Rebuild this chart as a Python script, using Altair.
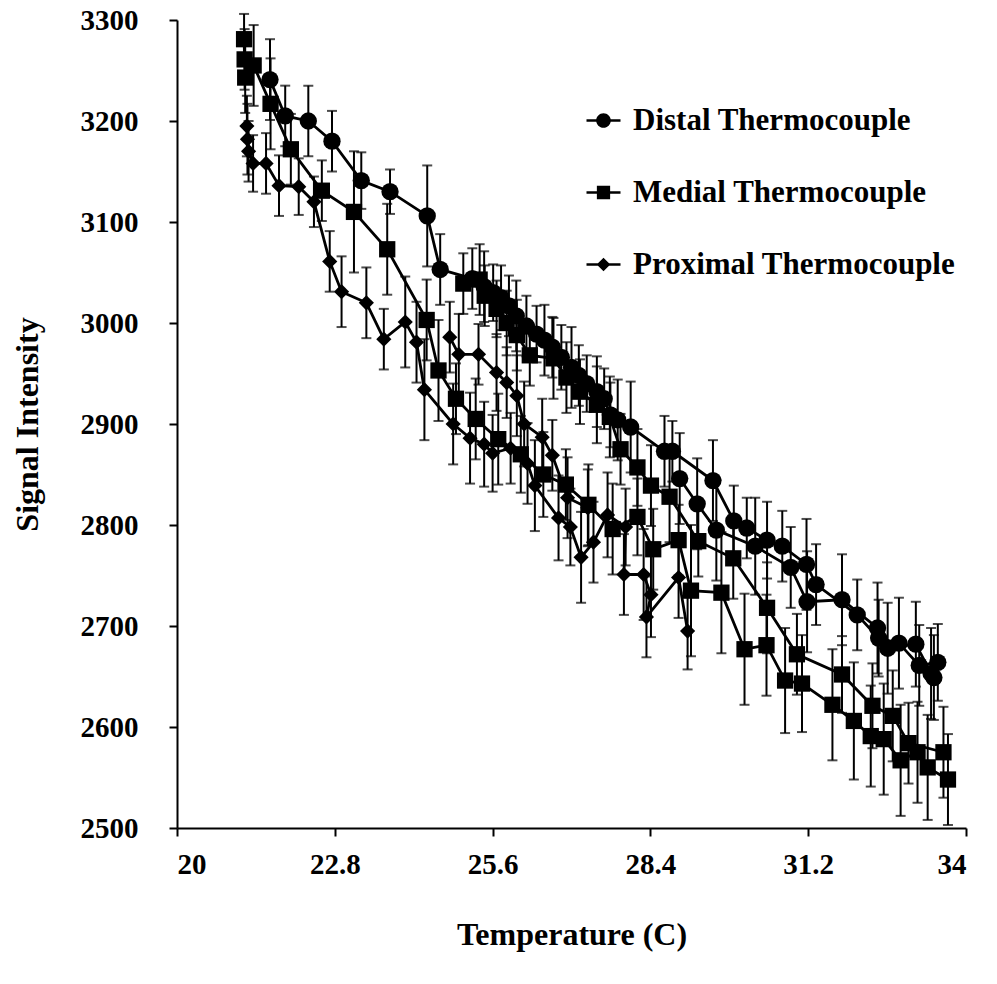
import altair as alt
import pandas as pd

SERIES = ["Distal Thermocouple", "Medial Thermocouple", "Proximal Thermocouple"]

# ---------------- Distal (circles) ----------------
dist_a_x = [21.65, 21.92, 22.33, 22.75, 23.27, 23.78, 24.44, 24.67,
            25.24, 25.45, 25.61, 25.75, 25.89, 26.02, 26.20, 26.38, 26.52, 26.66,
            26.82, 27.00, 27.13, 27.27, 27.45, 27.58, 27.69, 27.82, 28.05,
            28.65, 28.79, 29.51, 29.88, 30.11, 30.47, 30.74, 31.17, 31.34,
            32.07, 32.45, 32.81, 33.17, 33.50]
dist_a_y = [3241, 3205, 3200, 3180, 3141, 3130, 3106, 3053,
            3044, 3036, 3030, 3025, 3017, 3007, 2997, 2989, 2983, 2976,
            2966, 2956, 2948, 2940, 2932, 2925, 2909, 2904, 2897,
            2873, 2873, 2844, 2804, 2797, 2785, 2779, 2761, 2741,
            2711, 2688, 2683, 2661, 2664]
dist_a_e = [40, 30, 35, 30, 28, 22, 50, 35,
            30, 35, 28, 32, 30, 35, 30, 28, 35, 30,
            32, 40, 30, 28, 35, 30, 32, 40, 45,
            35, 30, 40, 35, 30, 38, 35, 45, 40,
            35, 38, 45, 40, 38]

dist_b_x = [28.92, 29.23, 29.57, 30.26, 30.89, 31.18, 31.80, 32.43, 32.61, 33.11, 33.38, 33.43]
dist_b_y = [2846, 2821, 2795, 2779, 2758, 2724, 2726, 2698, 2678, 2682, 2653, 2649]
dist_b_e = [45, 45, 50, 48, 40, 50, 45, 45, 45, 42, 45, 42]

# ---------------- Medial (squares) ----------------
med_a_x = [21.19, 21.20, 21.21, 21.36, 21.66, 22.02, 22.57, 23.14, 23.73, 24.43, 24.64,
           24.95, 25.30, 25.70, 26.10, 26.50, 26.90, 27.30, 27.73, 28.17, 28.45, 28.90,
           29.12, 29.66, 30.07, 30.46, 30.79, 31.09, 31.63, 32.01, 32.31, 32.54, 32.84,
           33.14, 33.32, 33.68]
med_a_y = [3281, 3261, 3243, 3255, 3217, 3172, 3131, 3110, 3073, 3003, 2953,
           2925, 2905, 2885, 2870, 2850, 2840, 2820, 2796, 2808, 2776, 2785,
           2735, 2733, 2677, 2681, 2646, 2643, 2622, 2606, 2591, 2588, 2567,
           2575, 2560, 2548]
med_a_e = [25, 30, 35, 40, 45, 35, 30, 60, 45, 40, 50,
           35, 40, 45, 38, 42, 35, 40, 45, 38, 40, 35,
           65, 60, 55, 50, 52, 48, 55, 58, 50, 55, 55,
           50, 52, 45]

med_b_x = [25.08, 25.37, 25.46, 25.67, 25.85, 26.03, 26.26, 26.68, 26.91, 27.15, 27.45,
           27.68, 27.87, 28.17, 28.41, 28.74, 29.25, 29.87, 30.47, 31.00, 31.80, 32.34,
           32.70, 32.98, 33.60]
med_b_y = [3039, 3043, 3027, 3014, 3000, 2988, 2968, 2965, 2946, 2932, 2919,
           2907, 2875, 2857, 2839, 2828, 2784, 2767, 2718, 2672, 2652, 2621,
           2611, 2584, 2575]
med_b_e = [30, 35, 30, 28, 32, 35, 30, 40, 35, 32, 38,
           40, 35, 38, 40, 45, 35, 40, 45, 40, 38, 42,
           45, 40, 45]

# ---------------- Proximal (diamonds) ----------------
prox_a_x = [21.24, 21.25, 21.27, 21.35, 21.58, 21.81, 22.16, 22.43, 22.71, 22.92, 23.36,
            23.67, 24.05, 24.25, 24.39, 24.90, 25.20, 25.45, 25.60, 25.92, 26.22, 26.35,
            26.77, 26.98, 27.17, 27.39, 27.64, 27.96, 27.93, 28.28, 28.41, 28.33, 28.90, 29.06]
prox_a_y = [3195, 3182, 3170, 3158, 3158, 3136, 3135, 3120, 3061, 3031, 3020,
            2984, 3001, 2981, 2934, 2900, 2886, 2880, 2871, 2876, 2861, 2839,
            2807, 2798, 2768, 2783, 2810, 2798, 2751, 2751, 2731, 2709, 2748, 2695]
prox_a_e = [30, 35, 30, 28, 30, 30, 28, 25, 30, 35, 35,
            30, 45, 40, 50, 40, 45, 42, 38, 35, 40, 45,
            42, 38, 45, 40, 42, 38, 40, 45, 42, 40, 40, 38]

prox_b_x = [24.84, 25.00, 25.35, 25.67, 25.85, 26.03, 26.16, 26.48, 26.66, 26.93, 27.29]
prox_b_y = [2986, 2969, 2969, 2951, 2941, 2928, 2900, 2887, 2869, 2827, 2817]
prox_b_e = [35, 40, 30, 38, 35, 40, 42, 38, 35, 40, 38]

x_ticks = [20, 22.8, 25.6, 28.4, 31.2, 34]
y_ticks = [2500, 2600, 2700, 2800, 2900, 3000, 3100, 3200, 3300]

rows = []


def add(series, path, xs, ys, es):
    assert len(xs) == len(ys) == len(es), (series, path, len(xs), len(ys), len(es))
    for i, (xv, yv, ev) in enumerate(zip(xs, ys, es)):
        rows.append({"series": series, "path": series + path, "x": xv, "y": yv,
                     "err": ev, "idx": i})


add(SERIES[0], "a", dist_a_x, dist_a_y, dist_a_e)
add(SERIES[0], "b", dist_b_x, dist_b_y, dist_b_e)
add(SERIES[1], "a", med_a_x, med_a_y, med_a_e)
add(SERIES[1], "b", med_b_x, med_b_y, med_b_e)
add(SERIES[2], "a", prox_a_x, prox_a_y, prox_a_e)
add(SERIES[2], "b", prox_b_x, prox_b_y, prox_b_e)

df = pd.DataFrame(rows)

FONT = "Liberation Serif"

xscale = alt.Scale(domain=[20, 34], nice=False, zero=False)
yscale = alt.Scale(domain=[2500, 3300], nice=False, zero=False)

xaxis = alt.Axis(values=x_ticks, format=".1~f", title="Temperature (C)",
                 titlePadding=40, labelPadding=14)
yaxis = alt.Axis(values=y_ticks, format="d", title="Signal Intensity",
                 titlePadding=36, labelPadding=31)


def X():
    return alt.X("x:Q", scale=xscale, axis=xaxis)


def Y(field):
    return alt.Y(field, scale=yscale, axis=yaxis)


base = alt.Chart(df).transform_calculate(lo="datum.y - datum.err", hi="datum.y + datum.err")

bars = base.mark_rule(color="black", strokeWidth=2).encode(
    x=X(), y=Y("lo:Q"), y2="hi:Q")
cap_lo = base.mark_tick(color="black", orient="horizontal", size=10, thickness=2).encode(
    x=X(), y=Y("lo:Q"))
cap_hi = base.mark_tick(color="black", orient="horizontal", size=10, thickness=2).encode(
    x=X(), y=Y("hi:Q"))

lines = base.mark_line(color="black", strokeWidth=2.8).encode(
    x=X(), y=Y("y:Q"), detail="path:N", order=alt.Order("idx:Q"))

points = base.mark_point(filled=True, color="black", opacity=1, strokeWidth=0).encode(
    x=X(), y=Y("y:Q"),
    shape=alt.Shape("series:N", scale=alt.Scale(domain=SERIES, range=["circle", "square", "diamond"]),
                    legend=None),
    size=alt.Size("series:N", scale=alt.Scale(domain=SERIES, range=[300, 230, 200]), legend=None),
)

# legend glyphs: marker with a line through it
leg_paths = [
    "M-2,-0.15 L2,-0.15 L2,0.15 L-2,0.15 Z M0.86,0 A0.86,0.86 0 1,1 -0.86,0 A0.86,0.86 0 1,1 0.86,0 Z",
    "M-2,-0.15 L2,-0.15 L2,0.15 L-2,0.15 Z M-0.78,-0.78 L0.78,-0.78 L0.78,0.78 L-0.78,0.78 Z",
    "M-2,-0.15 L2,-0.15 L2,0.15 L-2,0.15 Z M0,-0.8 L0.8,0 L0,0.8 L-0.8,0 Z",
]
legend_layer = base.transform_filter("false").mark_point(filled=True, color="black").encode(
    x=X(), y=Y("y:Q"),
    shape=alt.Shape("series:N", scale=alt.Scale(domain=SERIES, range=leg_paths),
                    legend=alt.Legend(title=None, orient="none", legendX=411, legendY=85,
                                      labelFont=FONT, labelFontSize=31, labelFontWeight="bold",
                                      labelColor="black", symbolSize=289, symbolFillColor="black",
                                      symbolStrokeWidth=0, symbolOpacity=1, labelOffset=14,
                                      rowPadding=40, padding=0, labelLimit=600)),
)

chart = alt.layer(bars, cap_lo, cap_hi, lines, points, legend_layer).resolve_scale(
    shape="independent"
).properties(
    width=789, height=808,
    autosize=alt.AutoSizeParams(type="none"),
    padding={"left": 177, "top": 20, "right": 31, "bottom": 156},
    background="white",
).configure_view(stroke=None).configure_axis(
    grid=False, domainColor="black", domainWidth=2, tickColor="black", tickWidth=2,
    tickSize=8, labelFont=FONT, labelFontSize=29, labelFontWeight="bold", labelColor="black",
    titleFont=FONT, titleFontSize=32, titleFontWeight="bold", titleColor="black",
)

chart.save("out.html", embed_options={"renderer": "svg", "actions": False})
